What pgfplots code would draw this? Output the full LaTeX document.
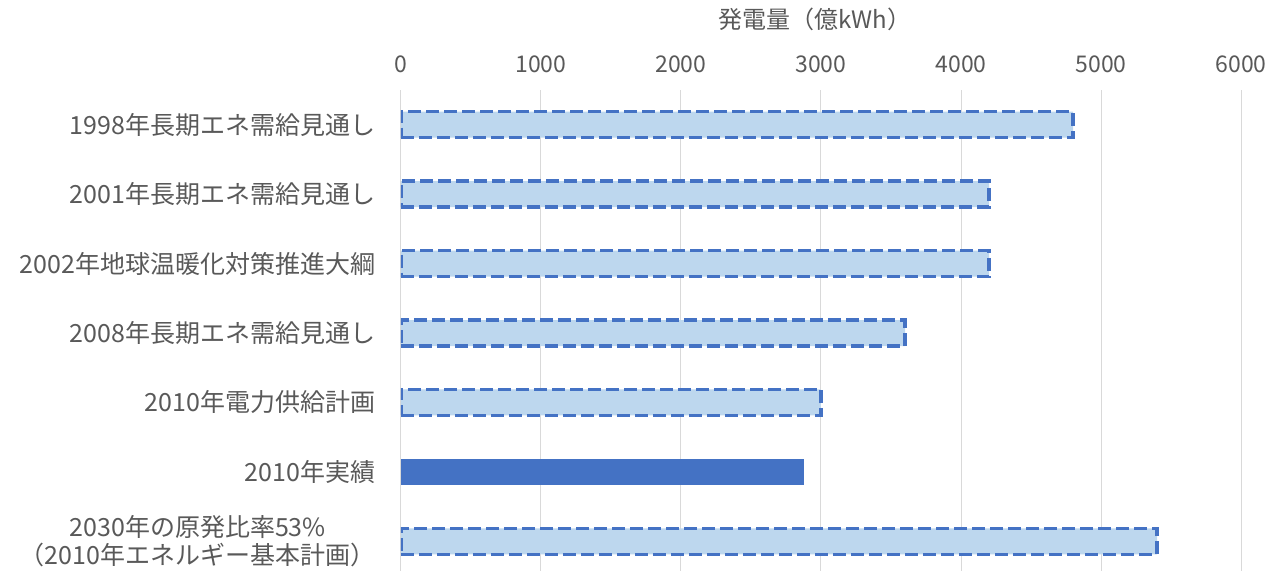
\documentclass[border=0pt]{standalone}
\usepackage{pgfplots}
\pgfplotsset{compat=1.18}
\usepackage{fontspec}
\setmainfont{Noto Sans CJK JP}
\definecolor{txt}{HTML}{595959}
\definecolor{gridc}{HTML}{D9D9D9}
\definecolor{bdark}{HTML}{4472C4}
\definecolor{blight}{HTML}{BDD7EE}
\begin{document}
\begin{tikzpicture}
\path[use as bounding box] (-200.5pt,3pt) rectangle (433.5pt,288pt);
\begin{axis}[
  scale only axis, width=420pt, height=243pt,
  xmin=0, xmax=6000, ymin=-0.5, ymax=6.5, y dir=reverse,
  xtick={0,1000,...,6000},
  ytick={0,...,6},
  yticklabels={1998年長期エネ需給見通し,2001年長期エネ需給見通し,2002年地球温暖化対策推進大綱,2008年長期エネ需給見通し,2010年電力供給計画,2010年実績,{2030年の原発比率53\%\\（2010年エネルギー基本計画）}},
  xticklabel pos=right,
  axis line style={draw=none},
  major tick style={draw=none},
  xmajorgrids, ymajorgrids=false, grid style={draw=gridc, line width=0.5pt},
  /pgf/number format/assume math mode=true,
  /pgf/number format/1000 sep={},
  xticklabel style={font=\fontsize{11.5}{13}\selectfont, text=txt, yshift=5pt},
  yticklabel style={font=\fontsize{12.5}{14}\selectfont, text=txt, align=center, xshift=-5pt},
  title={発電量（億kWh）},
  title style={font=\fontsize{12}{14}\selectfont, text=txt, at={(axis description cs:0.493,1)}, anchor=south, yshift=20pt},
  xbar, bar width=13pt, bar shift=0pt,
]
\addplot[draw=bdark, fill=blight, line width=1.7pt, dash pattern=on 6.5pt off 2.5pt] coordinates {(4800,0) (4200,1) (4200,2) (3600,3) (3000,4) (5400,6)};
\addplot[draw=none, fill=bdark] coordinates {(2882,5)};
\end{axis}
\end{tikzpicture}
\end{document}
